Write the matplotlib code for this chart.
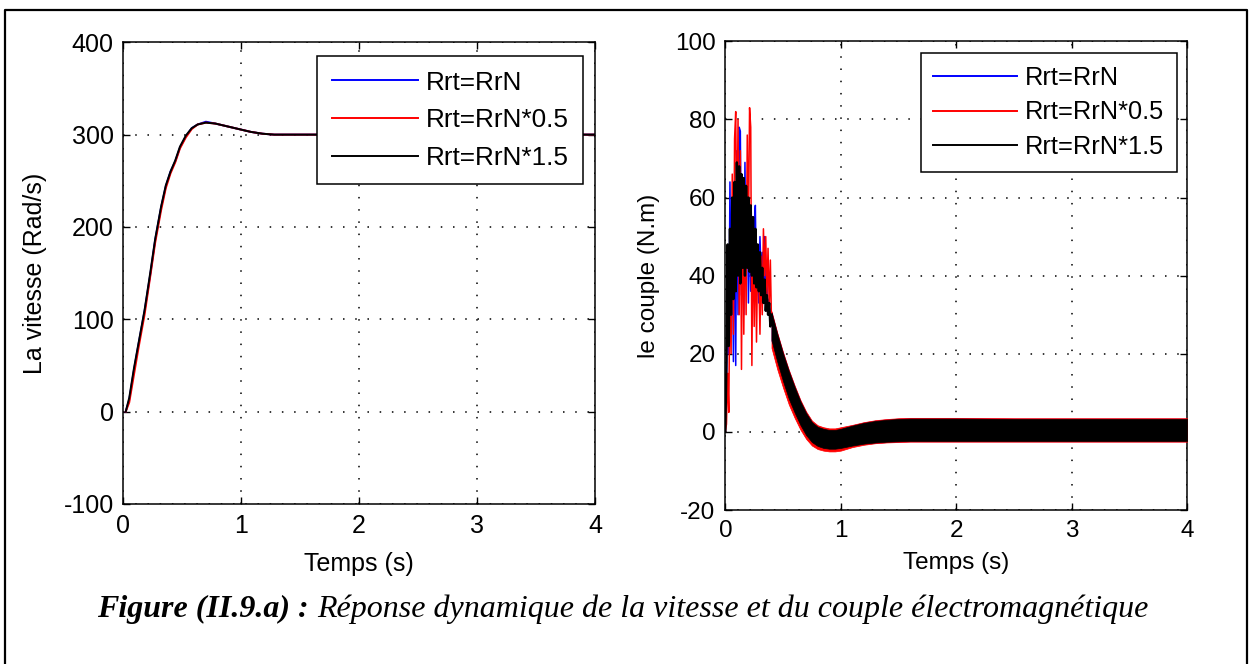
import matplotlib.pyplot as plt
from matplotlib.lines import Line2D

plt.rcParams['font.family'] = ['Liberation Sans', 'DejaVu Sans']
plt.rcParams['axes.unicode_minus'] = False

# ---- speed response (Rad/s) ----
t_w = [0.02, 0.05, 0.09, 0.13, 0.18, 0.23, 0.27, 0.32, 0.36, 0.40, 0.44, 0.48,
       0.53, 0.58, 0.63, 0.70, 0.78, 0.88, 0.98, 1.08, 1.18, 1.28, 4.0]
w_rrn = [0, 13, 45, 74, 109, 150, 186, 221, 244, 260, 271, 286,
         298, 307, 311, 314, 312, 309, 306, 303, 301, 300, 300]
w_rrn05 = [0, 10, 40, 70, 105, 148, 183, 218, 242, 258, 270, 285,
           297, 306, 311, 313, 312, 309, 306, 303, 301, 300, 300]
w_rrn15 = [0, 15, 47, 75, 110, 152, 187, 222, 245, 260, 272, 287,
           299, 307, 311, 313, 312, 309, 306, 303, 301, 300, 300]

# ---- torque: start-up oscillations (N.m), 0 .. 0.40 s ----
t_osc = [i / 100 for i in range(41)]
c_rrn = [0, 10, 40, 20, 64, 30, 55, 18, 60, 17, 72, 30, 78, 77, 35, 60, 30, 69, 38, 62,
         33, 57, 36, 55, 34, 53, 58, 35, 48, 33, 50, 40, 46, 34, 50, 31, 38, 30, 34, 27, 30]
c_rrn05 = [0, 2, 15, 5, 40, 20, 66, 25, 75, 82, 45, 80, 30, 72, 16, 62, 25, 58, 30, 76,
           50, 83, 78, 17, 55, 27, 50, 23, 45, 40, 25, 45, 30, 52, 40, 50, 35, 47, 32, 44, 28]
c_rrn15 = [0, 18, 48, 22, 52, 30, 60, 34, 64, 36, 69, 40, 68, 38, 66, 42, 65, 40, 63, 42,
           60, 41, 58, 40, 55, 38, 52, 37, 48, 36, 46, 35, 42, 33, 39, 31, 35, 30, 33, 27, 30]

# ---- torque: noisy band after start-up (lower / upper envelope) ----
t_band = [0.40, 0.45, 0.50, 0.55, 0.60, 0.65, 0.70, 0.75, 0.80, 0.85, 0.90, 0.95, 1.00,
          1.10, 1.20, 1.30, 1.40, 1.50, 1.60, 1.80, 2.00, 2.50, 3.00, 3.50, 4.00]
lo_rrn = [23.3, 17.8, 12.8, 8.3, 4.8, 1.6, -1.0, -2.8, -3.8, -4.3, -4.5, -4.5, -4.3,
          -3.6, -3.1, -2.8, -2.6, -2.5, -2.4, -2.4, -2.4, -2.4, -2.4, -2.4, -2.4]
hi_rrn = [30.7, 25.2, 20.2, 15.7, 11.7, 8.0, 5.0, 2.7, 1.5, 1.0, 0.7, 0.7, 1.0,
          1.7, 2.4, 2.9, 3.2, 3.4, 3.5, 3.5, 3.5, 3.4, 3.4, 3.4, 3.4]
lo_rrn05 = [21.5, 16.0, 11.3, 7.0, 3.6, 0.6, -1.8, -3.5, -4.4, -4.8, -5.0, -5.0, -4.8,
            -3.9, -3.3, -2.9, -2.7, -2.6, -2.5, -2.5, -2.5, -2.5, -2.5, -2.5, -2.5]
hi_rrn05 = [30.9, 25.4, 20.4, 15.9, 11.9, 8.2, 5.2, 2.9, 1.7, 1.2, 0.9, 0.9, 1.2,
            1.8, 2.5, 3.0, 3.3, 3.5, 3.6, 3.6, 3.6, 3.5, 3.5, 3.5, 3.5]
lo_rrn15 = [23.5, 18.0, 13.0, 8.5, 5.0, 1.8, -0.8, -2.6, -3.6, -4.1, -4.3, -4.3, -4.1,
            -3.5, -3.0, -2.7, -2.5, -2.4, -2.3, -2.3, -2.3, -2.3, -2.3, -2.3, -2.3]
hi_rrn15 = [30.5, 25.0, 20.0, 15.5, 11.5, 7.8, 4.8, 2.5, 1.3, 0.8, 0.5, 0.5, 0.8,
            1.6, 2.3, 2.8, 3.1, 3.3, 3.4, 3.4, 3.4, 3.3, 3.3, 3.3, 3.3]

labels = ['Rrt=RrN', 'Rrt=RrN*0.5', 'Rrt=RrN*1.5']
colors = ['blue', 'red', 'black']

W, H = 1251, 664
fig = plt.figure(figsize=(W / 100, H / 100), dpi=100)
ax1 = fig.add_axes([0.0986, 0.2410, 0.3770, 0.6953])
ax2 = fig.add_axes([0.5798, 0.2319, 0.3691, 0.7059])


def matlab_axes(ax, fs):
    ax.tick_params(direction='in', top=True, right=True, length=5, width=1,
                   labelsize=fs, pad=7)
    for s in ax.spines.values():
        s.set_linewidth(1.1)
    ax.grid(True, color='black', linestyle=(0, (1, 7)), linewidth=1.1)


# left: speed
for w, c, lab in zip([w_rrn, w_rrn05, w_rrn15], colors, labels):
    ax1.plot(t_w, w, color=c, lw=1.4, label=lab)
ax1.set_xlim(0, 4)
ax1.set_ylim(-100, 400)
ax1.set_xticks([0, 1, 2, 3, 4])
ax1.set_yticks([-100, 0, 100, 200, 300, 400])
matlab_axes(ax1, 18)
ax1.set_xlabel('Temps (s)', fontsize=18)
ax1.set_ylabel('La vitesse (Rad/s)', fontsize=18)
ax1.xaxis.set_label_coords(0.5, -0.104)
ax1.yaxis.set_label_coords(-0.162, 0.5)
leg1 = ax1.legend(loc='upper right', bbox_to_anchor=(0.9745, 0.970), borderaxespad=0,
                  fancybox=False, edgecolor='black', framealpha=1, fontsize=18.8,
                  handlelength=3.3, handletextpad=0.3, labelspacing=0.52, borderpad=0.55)
leg1.get_frame().set_linewidth(1.1)

# right: torque
osc = [c_rrn, c_rrn05, c_rrn15]
lows = [lo_rrn, lo_rrn05, lo_rrn15]
highs = [hi_rrn, hi_rrn05, hi_rrn15]
osc_lw = [1.1, 1.1, 1.7]
for k in range(3):
    ax2.plot(t_osc, osc[k], color=colors[k], lw=osc_lw[k], zorder=2 + k)
    ax2.fill_between(t_band, lows[k], highs[k], color=colors[k], lw=0.5,
                     edgecolor=colors[k], zorder=2 + k)
ax2.set_xlim(0, 4)
ax2.set_ylim(-20, 100)
ax2.set_xticks([0, 1, 2, 3, 4])
ax2.set_yticks([-20, 0, 20, 40, 60, 80, 100])
matlab_axes(ax2, 17.5)
ax2.set_xlabel('Temps (s)', fontsize=17.5)
ax2.set_ylabel('le couple (N.m)', fontsize=17.5)
ax2.xaxis.set_label_coords(0.5, -0.0896)
ax2.yaxis.set_label_coords(-0.141, 0.5)
handles = [Line2D([], [], color=c, lw=1.4) for c in colors]
leg2 = ax2.legend(handles, labels, loc='upper right', bbox_to_anchor=(0.978, 0.975),
                  borderaxespad=0, fancybox=False, edgecolor='black', framealpha=1,
                  fontsize=18.3, handlelength=3.3, handletextpad=0.3, labelspacing=0.42,
                  borderpad=0.5)
leg2.get_frame().set_linewidth(1.1)
leg2.set_zorder(10)

# frame around the figure (open at the bottom)
fx0, fx1, fy1 = 4.7 / W, 1247 / W, 1 - 10 / H
fig.add_artist(Line2D([fx0, fx0, fx1, fx1], [0, fy1, fy1, 0], color='black',
                      lw=1.6, transform=fig.transFigure))

# caption: bold-italic part then italic part, centred together
ybase = 1 - 617 / H
cap1 = fig.text(0, ybase, 'Figure (II.9.a) :', family='Liberation Serif',
                style='italic', weight='bold', size=23, va='baseline')
cap2 = fig.text(0, ybase, 'Réponse dynamique de la vitesse et du couple électromagnétique',
                family='Liberation Serif', style='italic', size=23, va='baseline')
fig.canvas.draw()
r = fig.canvas.get_renderer()
w1 = cap1.get_window_extent(r).width
w2 = cap2.get_window_extent(r).width
gap = 8
x0 = 623 - (w1 + gap + w2) / 2
cap1.set_x(x0 / W)
cap2.set_x((x0 + w1 + gap) / W)

fig.savefig('out.png', dpi=100)
